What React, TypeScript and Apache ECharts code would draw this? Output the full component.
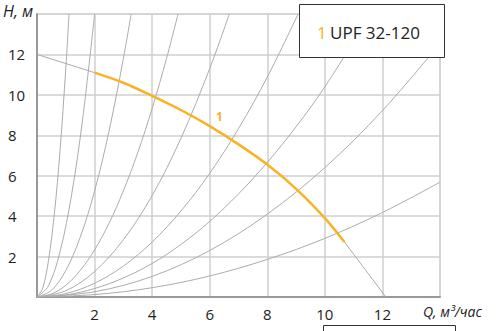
import React, { useEffect, useRef } from "react";
import * as echarts from "echarts";

// Pump curve "1 UPF 32-120" (Q, m3/h ; H, m)
const pumpCurve: [number, number][] = [
  [2, 11.1], [3, 10.6], [4, 9.95], [5, 9.25], [6, 8.45], [7, 7.55],
  [8, 6.55], [9, 5.35], [10, 3.9], [10.68, 2.72],
];
// grey continuation of pump curve outside the working range
const pumpHead: [number, number][] = [[0, 12], [2, 11.1]];
const pumpTail: [number, number][] = [[10.68, 2.72], [12.12, 0]];

// system curves (fan of parabolas from origin)
const sys1: [number, number][] = [[0, 0], [0.2, 0.45], [0.4, 1.81], [0.6, 4.07], [0.8, 7.23], [1.0, 11.3], [1.113, 14]];
const sys2: [number, number][] = [[0, 0], [0.4, 0.56], [0.8, 2.24], [1.2, 5.04], [1.6, 8.96], [2.0, 14]];
const sys3: [number, number][] = [[0, 0], [0.5, 0.33], [1, 1.31], [1.5, 2.95], [2, 5.24], [2.5, 8.19], [3, 11.79], [3.27, 14]];
const sys4: [number, number][] = [[0, 0], [0.5, 0.15], [1, 0.58], [1.5, 1.31], [2, 2.33], [2.5, 3.64], [3, 5.25], [3.5, 7.14], [4, 9.33], [4.5, 11.8], [4.9, 14]];
const sys5: [number, number][] = [[0, 0], [1, 0.31], [2, 1.26], [3, 2.83], [4, 5.02], [5, 7.85], [6, 11.3], [6.68, 14]];
const sys6: [number, number][] = [[0, 0], [1, 0.17], [2, 0.68], [3, 1.53], [4, 2.72], [5, 4.25], [6, 6.12], [7, 8.33], [8, 10.88], [9.07, 14]];
const sys7: [number, number][] = [[0, 0], [1, 0.1], [2, 0.42], [3, 0.94], [4, 1.66], [5, 2.6], [6, 3.74], [7, 5.1], [8, 6.66], [9, 8.42], [10, 10.4], [11.6, 14]];
const sys8: [number, number][] = [[0, 0], [2, 0.26], [4, 1.02], [6, 2.3], [8, 4.1], [10, 6.4], [12, 9.22], [14, 12.54]];
const sys9: [number, number][] = [[0, 0], [2, 0.12], [4, 0.46], [6, 1.04], [8, 1.86], [10, 2.9], [12, 4.18], [14, 5.68]];
const systemCurves = [sys1, sys2, sys3, sys4, sys5, sys6, sys7, sys8, sys9];

const seriesName = "UPF 32-120";
const seriesNumber = "1";
const xName = "Q, м³/час";
const yName = "H, м";

const FONT = "'Open Sans', 'Noto Sans', sans-serif";
const ORANGE = "#F9B224";

export default function App() {
  const ref = useRef<HTMLDivElement>(null);
  useEffect(() => {
    if (!ref.current) return;
    const chart = echarts.init(ref.current, null, { renderer: "svg" });
    const thin = (data: [number, number][]) => ({
      type: "line",
      data,
      smooth: 0.35,
      showSymbol: false,
      silent: true,
      lineStyle: { color: "#ababab", width: 1 },
      z: 2,
    });
    chart.setOption({
      animation: false,
      textStyle: { fontFamily: FONT },
      grid: {
        left: 37, top: 14, right: 56, bottom: 34,
        show: true, borderColor: "#cfcfcf", borderWidth: 1,
      },
      xAxis: {
        type: "value", min: 0, max: 14, interval: 2,
        axisLine: { show: true, lineStyle: { color: "#999", width: 2 } },
        axisTick: { show: false },
        splitLine: { show: true, lineStyle: { color: "#cfcfcf", width: 1.5 } },
        axisLabel: {
          margin: 9, color: "#222", fontSize: 15, fontFamily: FONT,
          showMinLabel: false, showMaxLabel: false,
        },
      },
      yAxis: {
        type: "value", min: 0, max: 14, interval: 2,
        axisLine: { show: true, lineStyle: { color: "#999", width: 2 } },
        axisTick: { show: false },
        splitLine: { show: true, lineStyle: { color: "#cfcfcf", width: 1.5 } },
        axisLabel: {
          margin: 29, align: "left", color: "#222", fontSize: 15, fontFamily: FONT,
          showMinLabel: false, showMaxLabel: false,
        },
      },
      series: [
        ...systemCurves.map(thin),
        { ...thin(pumpHead), smooth: false },
        { ...thin(pumpTail), smooth: false },
        {
          type: "line",
          name: seriesName,
          data: pumpCurve,
          smooth: 0.3,
          showSymbol: false,
          silent: true,
          lineStyle: { color: ORANGE, width: 2.5 },
          z: 5,
        },
      ],
      graphic: [
        {
          type: "text", left: 3, top: 3,
          style: { text: yName, fill: "#222", font: `italic 16px ${FONT}` },
          z: 10,
        },
        {
          type: "text", left: 423, top: 304,
          style: { text: xName, fill: "#222", font: `italic 14px ${FONT}` },
          z: 10,
        },
        {
          type: "text", left: 216, top: 110,
          style: { text: seriesNumber, fill: ORANGE, font: `bold 12px ${FONT}` },
          z: 10,
        },
        {
          type: "rect",
          shape: { x: 299.5, y: 4.5, width: 145, height: 53 },
          style: { fill: "#fff", stroke: "#333", lineWidth: 1 },
          z: 20,
        },
        {
          type: "text", x: 317, y: 32,
          style: {
            text: `{n|${seriesNumber}} {t|${seriesName}}`,
            verticalAlign: "middle",
            rich: {
              n: { fill: ORANGE, font: `17px ${FONT}` },
              t: { fill: "#222", font: `17px ${FONT}` },
            },
          },
          z: 21,
        },
        {
          type: "rect",
          shape: { x: 323.5, y: 325.5, width: 132, height: 20 },
          style: { fill: "#fff", stroke: "#333", lineWidth: 1 },
          z: 20,
        },
      ],
    });
    return () => chart.dispose();
  }, []);
  return <div ref={ref} style={{ width: 496, height: 331, position: "absolute", left: 0, top: 0 }} />;
}
